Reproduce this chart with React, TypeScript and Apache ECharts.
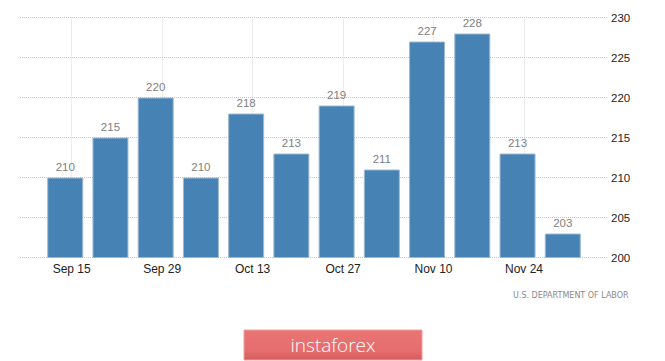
import React, { useEffect, useRef } from "react";
import * as echarts from "echarts";

const origin = "2019-09-07";
const weekEnding = [
  "2019-09-14", "2019-09-21", "2019-09-28", "2019-10-05", "2019-10-12", "2019-10-19",
  "2019-10-26", "2019-11-02", "2019-11-09", "2019-11-16", "2019-11-23", "2019-11-30",
];
const claims = [210, 215, 220, 210, 218, 213, 219, 211, 227, 228, 213, 203];
const tickDates = ["2019-09-15", "2019-09-29", "2019-10-13", "2019-10-27", "2019-11-10", "2019-11-24"];
const tickLabels = ["Sep 15", "Sep 29", "Oct 13", "Oct 27", "Nov 10", "Nov 24"];
const yTicks = [200, 205, 210, 215, 220, 225, 230];
const sourceText = "U.S. DEPARTMENT OF LABOR";
const logoText = "instaforex";

const font = "'Liberation Sans', Arial, sans-serif";
const dayOf = (d: string) => Math.round((Date.parse(d) - Date.parse(origin)) / 86400000);

export default function App() {
  const ref = useRef<HTMLDivElement>(null);
  useEffect(() => {
    document.body.style.margin = "0";
    const chart = echarts.init(ref.current!, null, { renderer: "svg" });
    const tickVals = tickDates.map(dayOf);
    chart.setOption({
      animation: false,
      grid: { left: 20, right: 57, top: 17.5, bottom: 103.5 },
      xAxis: {
        type: "value",
        min: 0,
        max: 91,
        axisLine: { show: false },
        axisTick: { show: false, customValues: tickVals },
        axisLabel: {
          customValues: tickVals,
          color: "#222",
          fontSize: 12,
          fontFamily: font,
          margin: 5,
          formatter: (v: number) => {
            const i = tickVals.indexOf(Math.round(v));
            return i >= 0 ? tickLabels[i] : "";
          },
        },
        splitLine: { show: true, lineStyle: { color: "#d8d8d8", type: [1, 1], width: 1 } },
      },
      yAxis: {
        type: "value",
        position: "right",
        min: yTicks[0],
        max: yTicks[yTicks.length - 1],
        interval: 5,
        axisLine: { show: false },
        axisTick: { show: false },
        axisLabel: {
          color: "#222",
          fontSize: 11.5,
          fontFamily: font,
          margin: 3,
        },
        splitLine: { show: true, lineStyle: { color: "#c8c8c8", type: [1, 1], width: 1 } },
      },
      series: [
        {
          type: "bar",
          barWidth: 36,
          data: weekEnding.map((d, i) => [dayOf(d), claims[i]]),
          itemStyle: { color: "#4682b4", borderColor: "#9dbad3", borderWidth: 1 },
          label: {
            show: true,
            position: "top",
            distance: 5,
            color: "#808080",
            fontSize: 11.5,
            fontFamily: font,
          },
        },
      ],
      graphic: [
        {
          type: "text",
          left: 513,
          top: 291,
          style: {
            text: sourceText,
            fill: "#8a8a8a",
            fontSize: 8,
            fontFamily: "DejaVu Sans, sans-serif",
          },
        },
        {
          type: "rect",
          shape: { x: 244, y: 330, width: 178, height: 30 },
          style: {
            fill: new echarts.graphic.LinearGradient(0, 0, 0, 1, [
              { offset: 0, color: "#ea7474" },
              { offset: 0.7, color: "#e56d6e" },
              { offset: 1, color: "#d75b5d" },
            ]),
            stroke: "#f0a0a0",
            lineWidth: 1,
          },
        },
        {
          type: "text",
          x: 333,
          y: 345,
          style: {
            text: logoText,
            fill: "#ffffff",
            fontSize: 19,
            fontWeight: 300,
            fontFamily: "Open Sans, sans-serif",
            align: "center",
            verticalAlign: "middle",
          },
        },
      ],
    });
    return () => chart.dispose();
  }, []);
  return <div ref={ref} style={{ width: 665, height: 361 }} />;
}
